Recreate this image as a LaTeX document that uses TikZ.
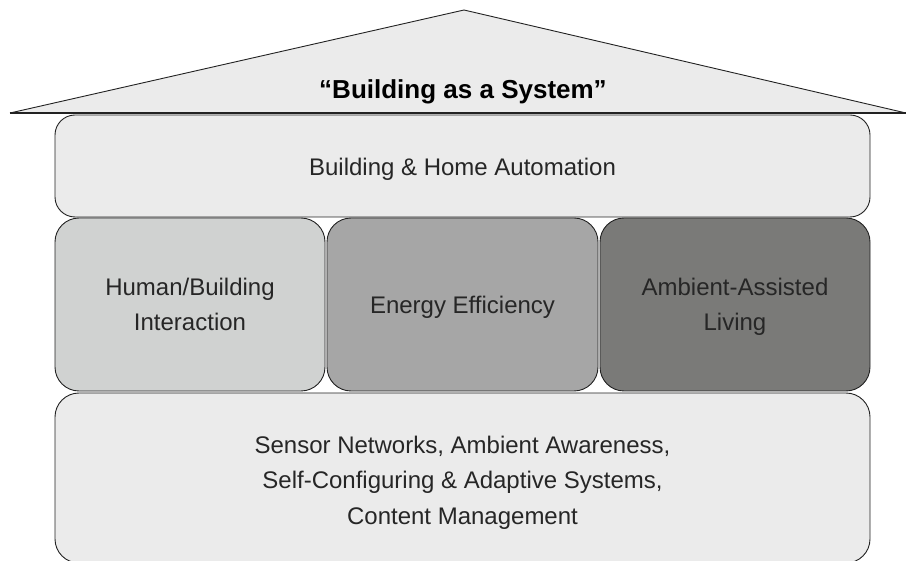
\documentclass[tikz,border=0pt]{standalone}
\usepackage{fontspec}
\setmainfont{Liberation Sans}
\definecolor{paleFill}{HTML}{EBEBEB}
\definecolor{lightFill}{HTML}{D0D2D1}
\definecolor{midFill}{HTML}{A6A6A6}
\definecolor{darkFill}{HTML}{7A7A78}
\definecolor{edgeCol}{HTML}{222222}
\definecolor{textCol}{HTML}{262626}
\begin{document}
\begin{tikzpicture}[x=1pt,y=-1pt,
  layer/.style={draw=edgeCol, line width=0.9pt, rounded corners=#1,
    inner sep=0pt},
  layer/.default=22pt,
  caption/.style={inner sep=0pt, align=center, text=textCol,
    font=\fontsize{24}{35.5}\selectfont}]
\useasboundingbox (0,0) rectangle (906,561);

% roof
\filldraw[fill=paleFill, draw=edgeCol, line width=0.9pt, line join=miter]
  (10,113) -- (464,10) -- (906,113);
\coordinate (eaveL) at (10,113);
\coordinate (eaveR) at (906,113);
\draw[edgeCol, line width=2pt] (eaveL) -- (eaveR);
\node[anchor=base, text=black, font=\fontsize{26}{30}\selectfont\bfseries]
  (title) at (463,99) {“Building as a System”};

% top floor
\node[layer=20pt, fill=paleFill, minimum width=815pt, minimum height=102pt,
  label={[caption, yshift=-3.5pt]center:Building \& Home Automation}]
  (automation) at (462.5,166) {};

% middle floor
\node[layer=24pt, fill=lightFill, minimum width=270pt, minimum height=173pt,
  label={[caption, yshift=0pt]center:{Human/Building\\Interaction}}]
  (interaction) at (190,304.5) {};
\node[layer=24pt, fill=midFill, minimum width=271pt, minimum height=173pt,
  label={[caption, yshift=-3pt]center:Energy Efficiency}]
  (energy) at (462.5,304.5) {};
\node[layer=24pt, fill=darkFill, minimum width=270pt, minimum height=173pt,
  label={[caption, yshift=-2.5pt]center:{Ambient-Assisted\\Living}}]
  (aal) at (735,304.5) {};

% foundation
\node[layer=24pt, fill=paleFill, minimum width=815pt, minimum height=170pt,
  label={[caption, yshift=-4.5pt]center:{Sensor Networks, Ambient Awareness,\\Self-Configuring \& Adaptive Systems,\\Content Management}}]
  (sensors) at (462.5,478) {};
\end{tikzpicture}
\end{document}
